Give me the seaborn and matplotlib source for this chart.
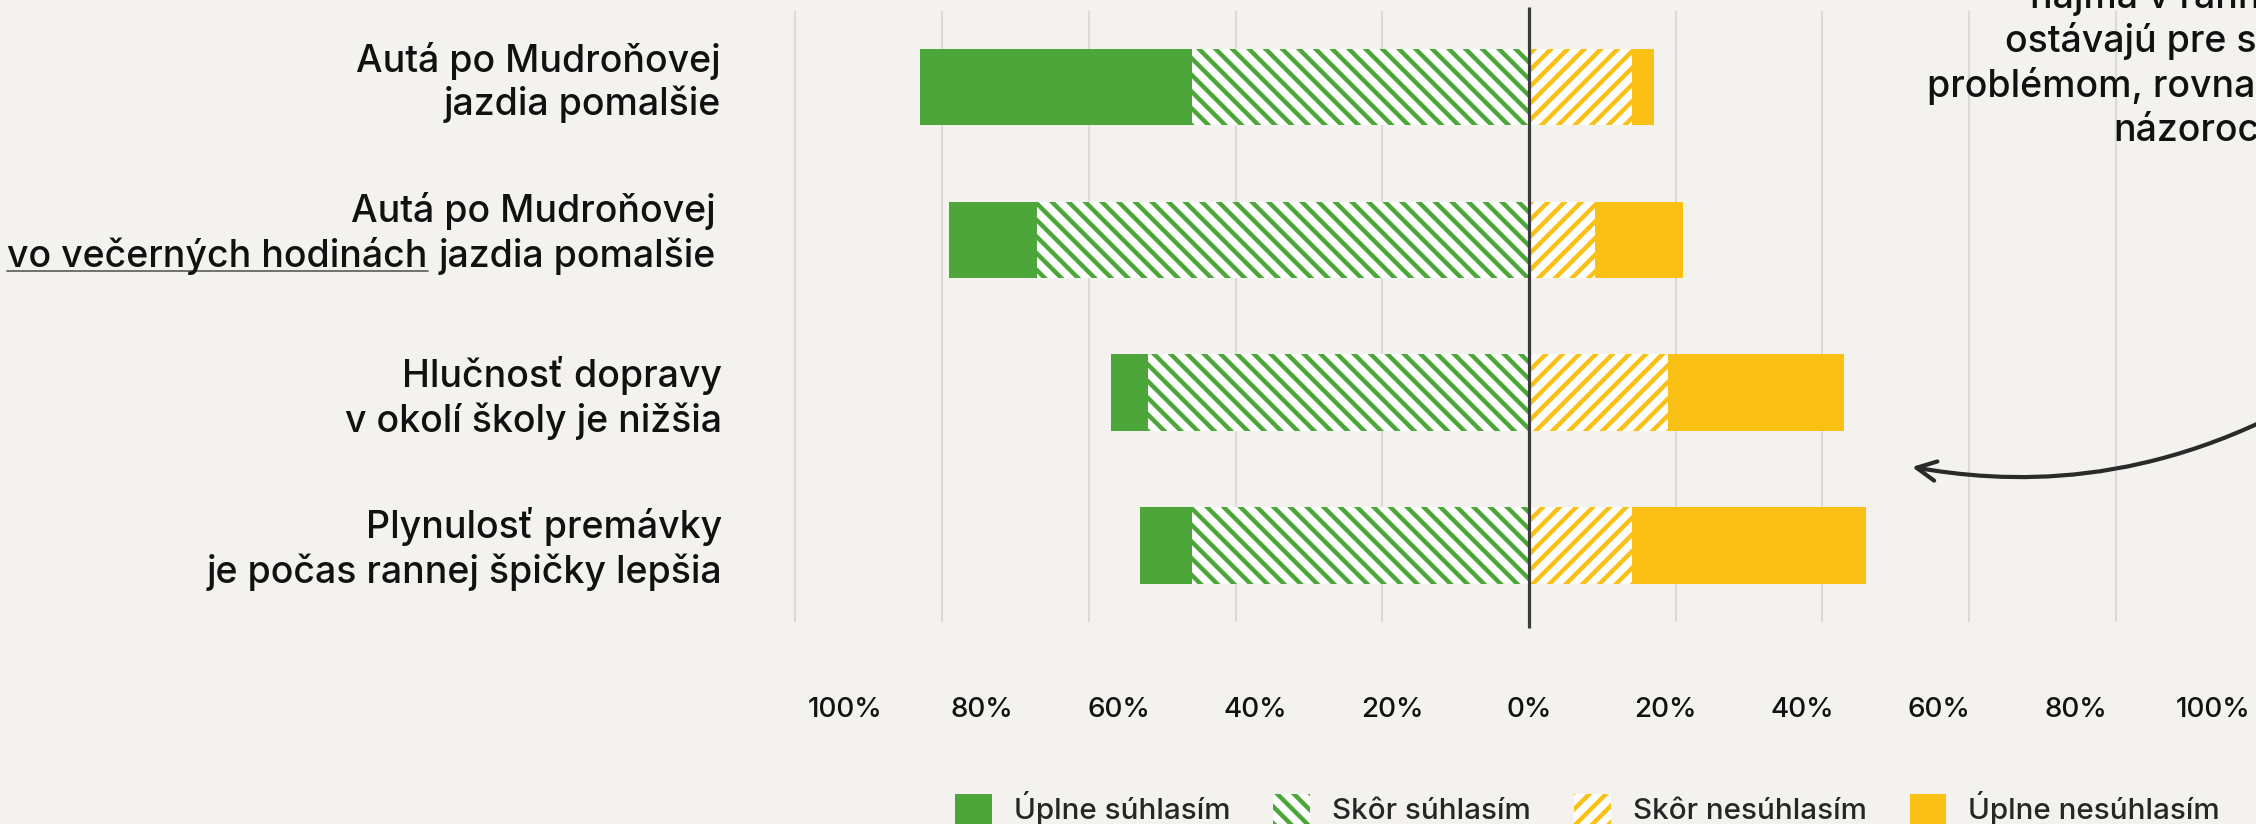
import pandas as pd
import seaborn as sns
import matplotlib.pyplot as plt
from matplotlib.patches import Patch, FancyArrowPatch
from matplotlib.path import Path
from matplotlib.lines import Line2D

W, H = 2256, 824

statements = ['Autá po Mudroňovej jazdia pomalšie',
              'Autá po Mudroňovej vo večerných hodinách jazdia pomalšie',
              'Hlučnosť dopravy v okolí školy je nižšia',
              'Plynulosť premávky je počas rannej špičky lepšia']
uplne_suhlasim = [37, 12, 5, 7]
skor_suhlasim = [46, 67, 52, 46]
skor_nesuhlasim = [14, 9, 19, 14]
uplne_nesuhlasim = [3, 12, 24, 32]
legend_labels = ['Úplne súhlasím', 'Skôr súhlasím', 'Skôr nesúhlasím', 'Úplne nesúhlasím']
grid_vals = [-100, -80, -60, -40, -20, 20, 40, 60, 80, 100]
tick_vals = [-100, -80, -60, -40, -20, 0, 20, 40, 60, 80, 100]
tick_labels = ['100%', '80%', '60%', '40%', '20%', '0%', '20%', '40%', '60%', '80%', '100%']

# riadky popisov (druhy riadok druheho popisu ma podciarknutu cast)
label_lines = [('Autá po Mudroňovej', 'jazdia pomalšie'),
               ('Autá po Mudroňovej', 'jazdia pomalšie'),
               ('Hlučnosť dopravy', 'v okolí školy je nižšia'),
               ('Plynulosť premávky', 'je počas rannej špičky lepšia')]
underlined = 'vo večerných hodinách'
note_lines = ['najmä v ranných hodinách', 'ostávajú pre susedov',
              'problémom, rovnako ako', 'názoroch']

GREEN = '#4ca63a'
YELLOW = '#fbc016'
BG = '#f4f2ee'
GRID = '#dcdad6'
FS = 27
FW = 'medium'

df = pd.DataFrame({'statement': statements,
                   'uplne_s': uplne_suhlasim, 'skor_s': skor_suhlasim,
                   'skor_n': skor_nesuhlasim, 'uplne_n': uplne_nesuhlasim})
df['agree_total'] = -(df.uplne_s + df.skor_s)
df['agree_part'] = -df.skor_s
df['dis_total'] = df.skor_n + df.uplne_n
df['dis_part'] = df.skor_n

sns.set_theme(style='white')
plt.rcParams['font.family'] = ['Inter', 'DejaVu Sans']
plt.rcParams['hatch.linewidth'] = 3.2

fig = plt.figure(figsize=(W / 100, H / 100), dpi=100, facecolor=BG)
ax = fig.add_axes([700 / W, 1 - 650 / H, (W - 700) / W, 650 / H])
ax.set_facecolor(BG)

ax.vlines(grid_vals, -0.5, 3.5, color=GRID, lw=1.5, zorder=0)

# najprv cele bary, potom sraffovana cast cez ne
segments = [('agree_total', GREEN, GREEN, None),
            ('agree_part', 'white', GREEN, '\\\\'),
            ('dis_total', YELLOW, YELLOW, None),
            ('dis_part', 'white', YELLOW, '//')]
for col, face, edge, hatch in segments:
    sns.barplot(data=df, x=col, y='statement', order=statements, color=face,
                saturation=1, width=0.5, errorbar=None, edgecolor=edge,
                linewidth=0, hatch=hatch, ax=ax, zorder=2)

ax.vlines(0, -0.525, 3.54, color='#3c3c3c', lw=2.3, zorder=3)

ax.set_xlim(-113.0, 99.1)
ax.set_ylim(3.685, -0.569)
ax.set_xticks([v * 0.932 for v in tick_vals], tick_labels)
ax.tick_params(axis='x', length=0, pad=34, labelsize=20, labelcolor='#111111')
for t in ax.get_xticklabels():
    t.set_fontweight(FW)
ax.set_yticks([])
ax.set_xlabel('')
ax.set_ylabel('')
sns.despine(ax=ax, left=True, bottom=True)


def fx(px):
    return px / W


def fy(py):
    return 1 - py / H


# popisy vlavo
label_right = [721, 716, 722, 722]
label_base = [(72, 115), (222, 267), (387, 432), (538, 583)]
for i, ((l1, l2), xr, (b1, b2)) in enumerate(zip(label_lines, label_right, label_base)):
    fig.text(fx(xr), fy(b1), l1, ha='right', va='baseline', fontsize=FS,
             fontweight=FW, color='#111111')
    t2 = fig.text(fx(xr), fy(b2), l2, ha='right', va='baseline', fontsize=FS,
                  fontweight=FW, color='#111111')
    if i == 1:
        second = t2

fig.canvas.draw()
r = fig.canvas.get_renderer()
bb = second.get_window_extent(r)
tu = fig.text(fx(bb.x0 - 11), fy(label_base[1][1]), underlined, ha='right', va='baseline',
              fontsize=FS, fontweight=FW, color='#111111')
fig.canvas.draw()
bu = tu.get_window_extent(r)
fig.add_artist(Line2D([bu.x0 / W, bu.x1 / W], [fy(270.5), fy(270.5)],
                      transform=fig.transFigure, color='#666666', lw=1.3))

# poznamka vpravo hore (orezana okrajom)
note_x = [2030, 2005, 1927, 2113]
note_base = [8, 52, 97, 141]
for s, x, b in zip(note_lines, note_x, note_base):
    fig.text(fx(x), fy(b), s, ha='left', va='baseline', fontsize=FS, fontweight=FW,
             color='#111111')

pts = [(2330, 385), (2150, 495), (2000, 482), (1912, 467)]
arrow = FancyArrowPatch(path=Path([(fx(x), fy(y)) for x, y in pts],
                                  [Path.MOVETO, Path.CURVE4, Path.CURVE4, Path.CURVE4]),
                        arrowstyle='->,head_length=0.7,head_width=0.35', mutation_scale=20,
                        lw=3.0, color='#2a2a2a', transform=fig.transFigure,
                        capstyle='round', joinstyle='round')
fig.add_artist(arrow)

handles = [Patch(facecolor=GREEN, edgecolor=GREEN, linewidth=0),
           Patch(facecolor='white', edgecolor=GREEN, hatch='\\\\', linewidth=0),
           Patch(facecolor='white', edgecolor=YELLOW, hatch='//', linewidth=0),
           Patch(facecolor=YELLOW, edgecolor=YELLOW, linewidth=0)]
leg = fig.legend(handles, legend_labels, loc='center', bbox_to_anchor=(0.7037, 0.0194),
                 ncol=4, frameon=False, fontsize=21.3, handlelength=1.25, handleheight=1.22,
                 handletextpad=0.74, columnspacing=1.45, borderpad=0, borderaxespad=0)
for t in leg.get_texts():
    t.set_fontweight(FW)

fig.savefig('out.png', dpi=100, facecolor=BG)
